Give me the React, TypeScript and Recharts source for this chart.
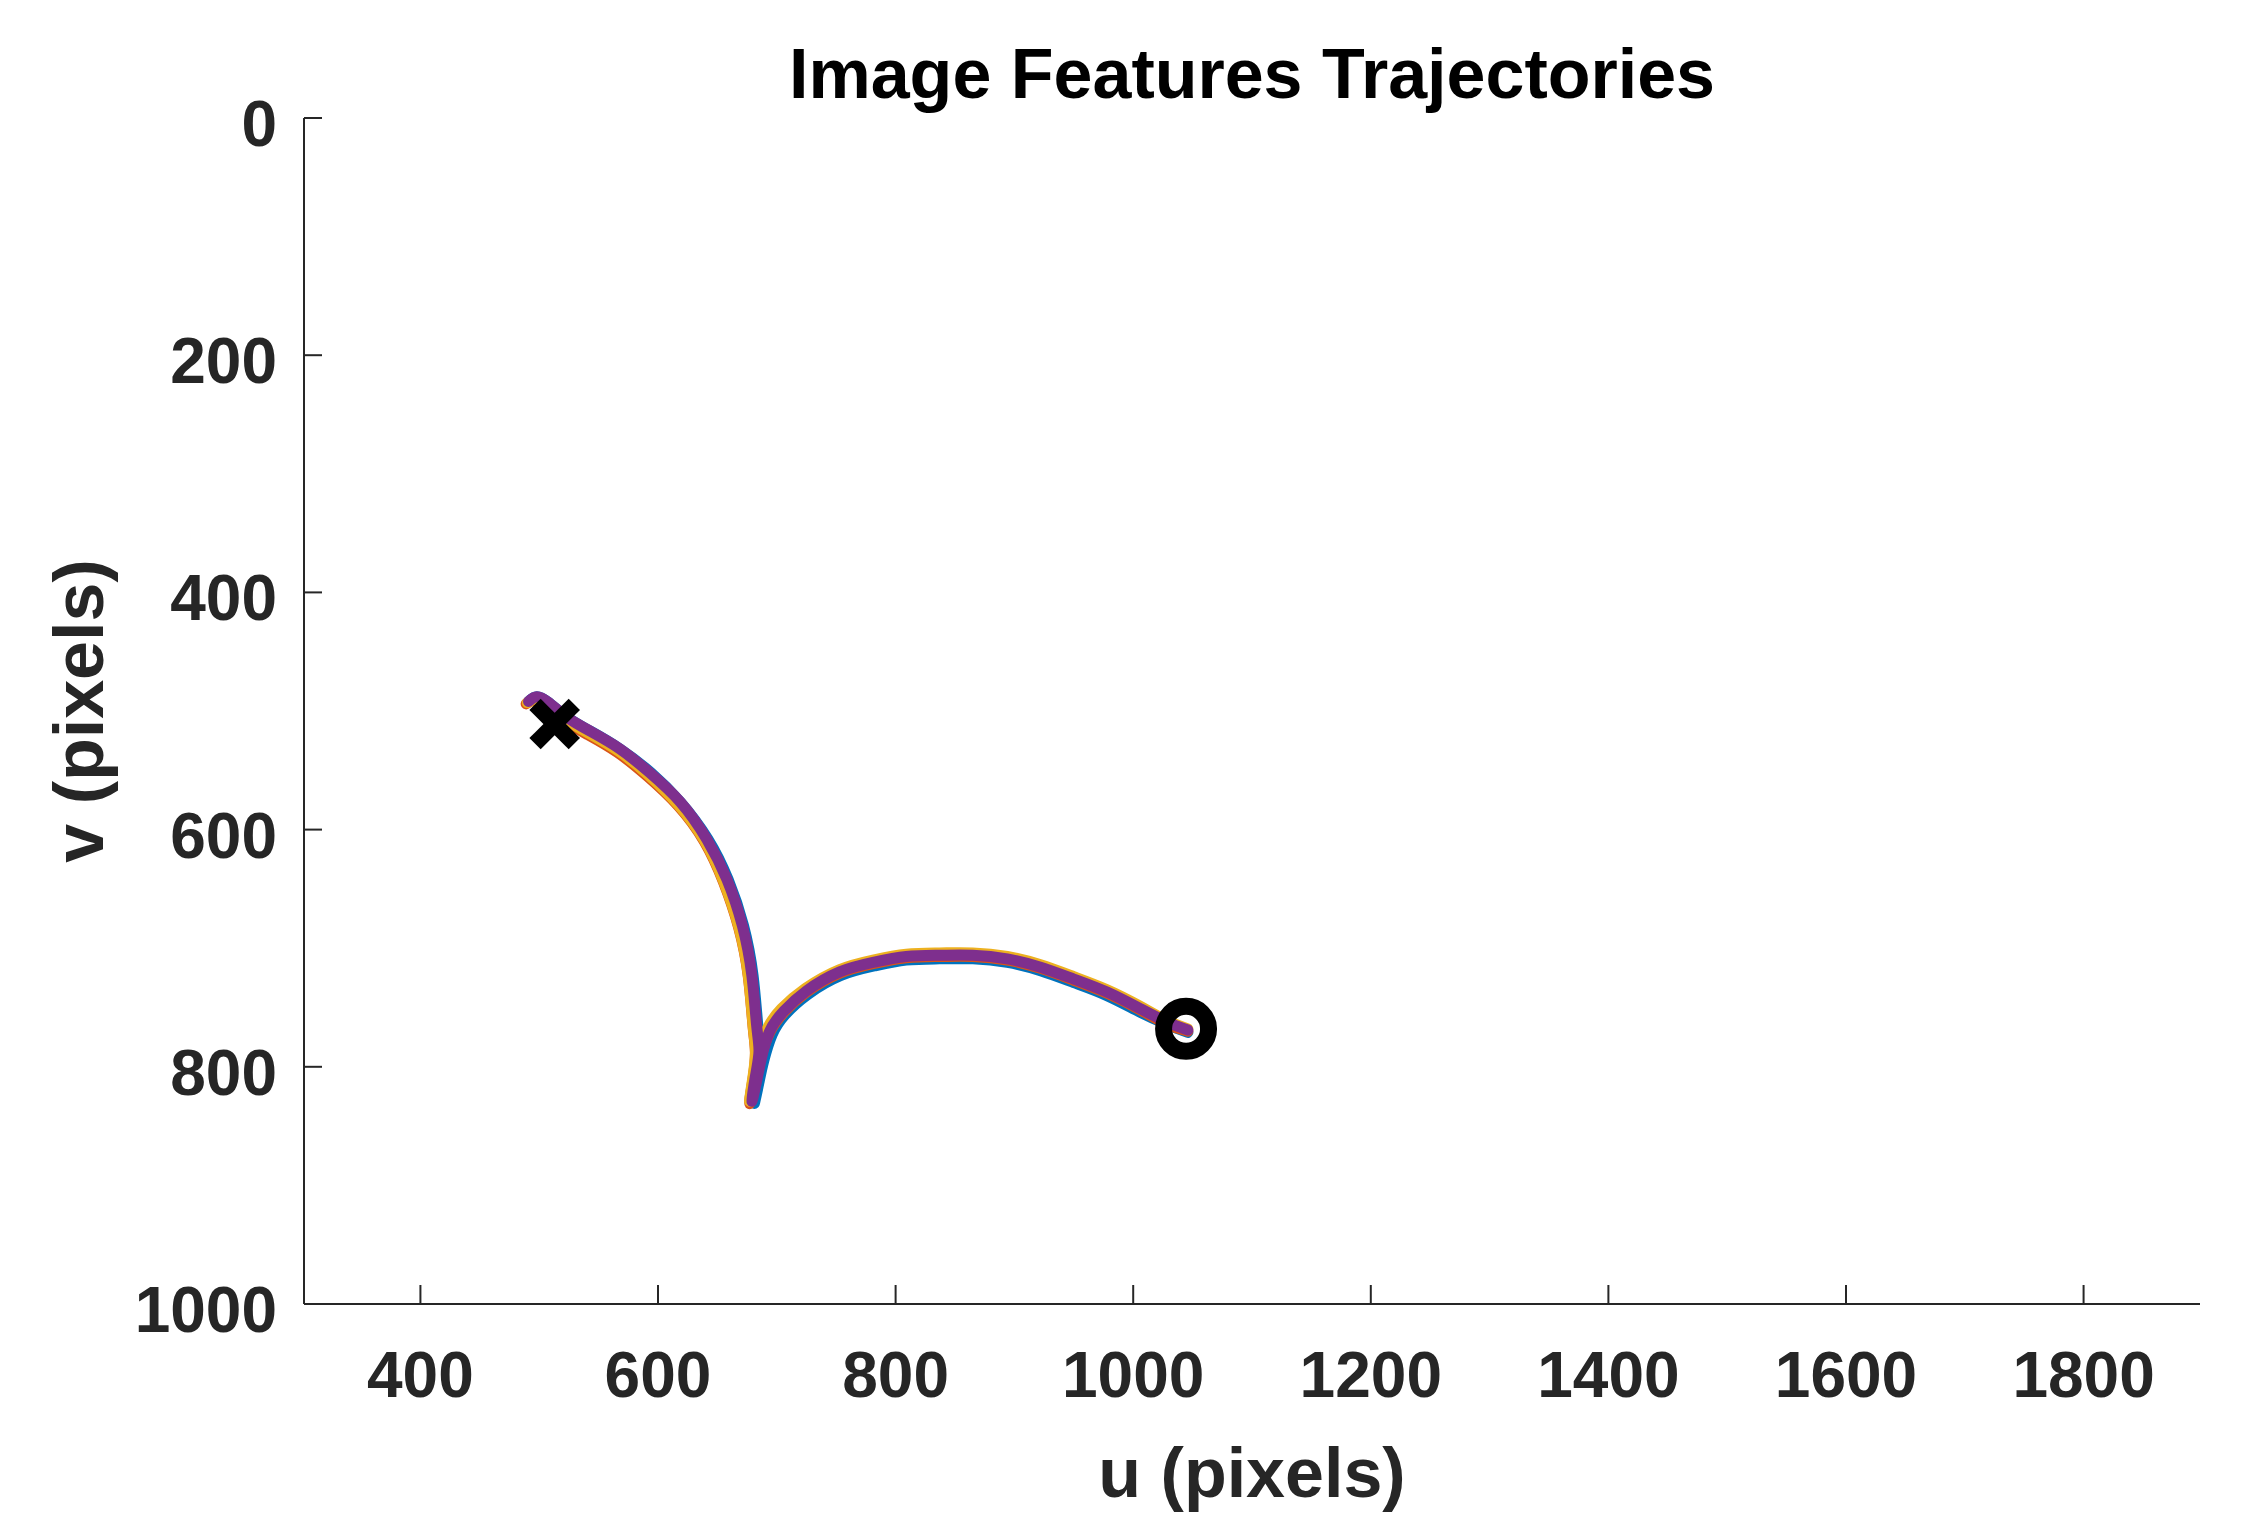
import { ComposedChart, Line, Scatter, XAxis, YAxis } from 'recharts';

const CHART_W = 2258;
const CHART_H = 1538;
const PLOT_LEFT = 304;
const PLOT_RIGHT = 2200;
const PLOT_TOP = 118;
const PLOT_BOTTOM = 1304;
const AXIS_COLOR = '#262626';
const FONT = '"Liberation Sans", Arial, Helvetica, sans-serif';

const uTicks = [400, 600, 800, 1000, 1200, 1400, 1600, 1800];
const vTicks = [0, 200, 400, 600, 800, 1000];

// image feature trajectories, [u, v] in pixels
const feature1 = [
  [491, 492], [498, 488], [508, 493], [523, 505], [543, 517], [568, 532], [594, 552],
  [619, 577], [642, 608], [659, 642], [672, 681], [680, 723], [684, 765], [686, 788],
  [684, 810], [681, 831], [685, 813], [689, 795], [696, 773], [707, 756], [726, 739],
  [754, 723], [782, 715], [809, 710], [837, 709], [865, 709], [894, 712], [922, 719],
  [950, 729], [978, 740], [1006, 754], [1028, 764], [1046, 771],
];
const feature2 = [
  [489, 494], [496, 491], [506, 496], [521, 508], [541, 520], [566, 535], [591, 555],
  [617, 580], [639, 610], [655, 644], [668, 683], [676, 724], [680, 766], [682, 788],
  [680, 810], [677, 831], [682, 813], [686, 794], [694, 771], [706, 754], [725, 737],
  [753, 721], [781, 713], [809, 708], [837, 707], [865, 707], [894, 710], [922, 717],
  [950, 727], [978, 738], [1006, 752], [1028, 764], [1046, 770],
];
const feature3 = [
  [490, 493], [497, 490], [507, 495], [522, 507], [542, 519], [567, 534], [592, 554],
  [617, 579], [639, 609], [655, 643], [668, 682], [676, 723], [680, 765], [682, 787],
  [680, 808], [677, 829], [681, 812], [685, 791], [692, 768], [704, 751], [724, 734],
  [753, 718], [781, 710], [809, 705], [837, 704], [865, 704], [894, 707], [922, 714],
  [950, 724], [978, 735], [1006, 749], [1028, 761], [1046, 768],
];
const feature4 = [
  [491, 492], [498, 488], [508, 493], [523, 505], [543, 517], [568, 532], [593, 552],
  [619, 577], [641, 608], [658, 642], [671, 681], [679, 723], [683, 765], [685, 787],
  [682, 808], [679, 829], [683, 812], [687, 793], [694, 770], [706, 753], [725, 736],
  [753, 720], [781, 712], [809, 707], [837, 706], [865, 706], [894, 709], [922, 716],
  [950, 726], [978, 737], [1006, 751], [1028, 762], [1046, 769],
];
const seriesColors = ['#0072BD', '#D95319', '#EDB120', '#7E2F8E'];

const crossPoint = [[513, 511]];
const circlePoint = [[1044.5, 768]];

const toRows = (pts: number[][]) => pts.map(([u, v]) => ({ u, v }));
const features = [feature1, feature2, feature3, feature4].map(toRows);

const UTick = ({ x, payload }: any) => (
  <g>
    <line x1={x} x2={x} y1={PLOT_BOTTOM} y2={PLOT_BOTTOM - 19} stroke={AXIS_COLOR} strokeWidth={2} />
    <text x={x} y={PLOT_BOTTOM + 93} textAnchor="middle" fontFamily={FONT} fontWeight="bold" fontSize={64} fill={AXIS_COLOR}>
      {payload.value}
    </text>
  </g>
);

const VTick = ({ y, payload }: any) => (
  <g>
    <line x1={PLOT_LEFT} x2={PLOT_LEFT + 18} y1={y} y2={y} stroke={AXIS_COLOR} strokeWidth={2} />
    <text x={PLOT_LEFT - 27} y={y + 28} textAnchor="end" fontFamily={FONT} fontWeight="bold" fontSize={64} fill={AXIS_COLOR}>
      {payload.value}
    </text>
  </g>
);

const CrossShape = ({ cx, cy }: any) => (
  <g>
    <line x1={cx - 14} y1={cy - 14} x2={cx + 14} y2={cy + 14} stroke="#000" strokeWidth={16} strokeLinecap="square" />
    <line x1={cx - 14} y1={cy + 14} x2={cx + 14} y2={cy - 14} stroke="#000" strokeWidth={16} strokeLinecap="square" />
  </g>
);

const RingShape = ({ cx, cy }: any) => (
  <circle cx={cx} cy={cy} r={22.5} fill="none" stroke="#000" strokeWidth={17} />
);

export default function App() {
  const yAxisW = 300;
  const xAxisH = 200;
  const plotMidX = (PLOT_LEFT + PLOT_RIGHT) / 2;
  const plotMidY = (PLOT_TOP + PLOT_BOTTOM) / 2;

  return (
    <div style={{ position: 'absolute', left: 0, top: 0, width: CHART_W, height: CHART_H, background: '#fff' }}>
      <ComposedChart
        width={CHART_W}
        height={CHART_H}
        margin={{
          top: PLOT_TOP,
          right: CHART_W - PLOT_RIGHT,
          left: PLOT_LEFT - yAxisW,
          bottom: CHART_H - PLOT_BOTTOM - xAxisH,
        }}
      >
        <XAxis
          type="number"
          dataKey="u"
          domain={[302, 1898]}
          allowDataOverflow
          ticks={uTicks}
          interval={0}
          height={xAxisH}
          tickSize={0}
          tickMargin={0}
          tickLine={false}
          axisLine={{ stroke: AXIS_COLOR, strokeWidth: 2 }}
          tick={<UTick />}
        />
        <YAxis
          type="number"
          dataKey="v"
          domain={[0, 1000]}
          reversed
          allowDataOverflow
          ticks={vTicks}
          interval={0}
          width={yAxisW}
          tickSize={0}
          tickMargin={0}
          tickLine={false}
          axisLine={{ stroke: AXIS_COLOR, strokeWidth: 2 }}
          tick={<VTick />}
        />
        {features.map((rows, i) => (
          <Line
            key={i}
            data={rows}
            dataKey="v"
            type="natural"
            stroke={seriesColors[i]}
            strokeWidth={11}
            strokeLinecap="round"
            strokeLinejoin="round"
            dot={false}
            activeDot={false}
            isAnimationActive={false}
          />
        ))}
        <Scatter data={toRows(crossPoint)} dataKey="v" shape={<CrossShape />} isAnimationActive={false} />
        <Scatter data={toRows(circlePoint)} dataKey="v" shape={<RingShape />} isAnimationActive={false} />
      </ComposedChart>
      <svg
        width={CHART_W}
        height={CHART_H}
        style={{ position: 'absolute', left: 0, top: 0, pointerEvents: 'none' }}
      >
        <text x={plotMidX} y={98} textAnchor="middle" fontFamily={FONT} fontWeight="bold" fontSize={70} fill="#000">
          Image Features Trajectories
        </text>
        <text x={plotMidX} y={1497} textAnchor="middle" fontFamily={FONT} fontWeight="bold" fontSize={70} fill={AXIS_COLOR}>
          u (pixels)
        </text>
        <text
          x={0}
          y={0}
          transform={`translate(103, ${plotMidY}) rotate(-90)`}
          textAnchor="middle"
          fontFamily={FONT}
          fontWeight="bold"
          fontSize={70}
          fill={AXIS_COLOR}
        >
          v (pixels)
        </text>
      </svg>
    </div>
  );
}
